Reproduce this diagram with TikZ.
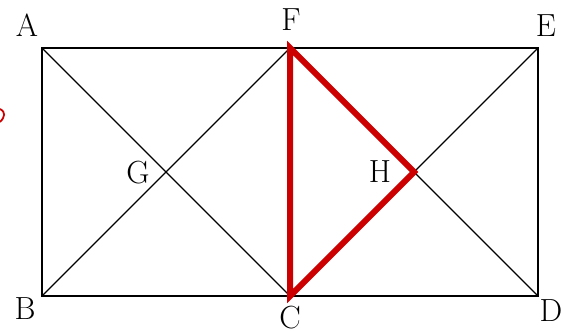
\documentclass[tikz,border=0pt]{standalone}
\usepackage{amsmath}
\usepackage{xcolor}
\usepackage{tikz}
\usetikzlibrary{positioning}

\definecolor{tri}{RGB}{204,0,0}

\begin{document}
\begin{tikzpicture}[x=1pt, y=-1pt, line width=1.3pt, every node/.style={font=\fontsize{32}{38}\selectfont}]
\useasboundingbox (0,0) rectangle (564,331);
\coordinate (A) at (42,48);
\coordinate (F) at (290,48);
\coordinate (E) at (538,48);
\coordinate (B) at (42,296);
\coordinate (C) at (290,296);
\coordinate (D) at (538,296);
\coordinate (G) at (166,172);
\coordinate (H) at (414,172);
\draw (A) rectangle (D);
\draw (A) -- (C) -- (E);
\draw (B) -- (F) -- (D);
\draw (F) -- (C);
\draw[tri, line width=6pt, line join=miter] (F) -- (C) -- (H) -- cycle;
\draw[tri, line width=1.8pt] (0,109) .. controls (6,112) and (5,117) .. (0,122);
\node (lA) at (27,25) {A};
\node (lF) at (291,20) {F};
\node (lE) at (546,26) {E};
\node (lB) at (25,309) {B};
\node (lC) at (290,318) {C};
\node (lD) at (551,311) {D};
\node (lG) at (138,173) {G};
\node (lH) at (380,172) {H};
\end{tikzpicture}
\end{document}
